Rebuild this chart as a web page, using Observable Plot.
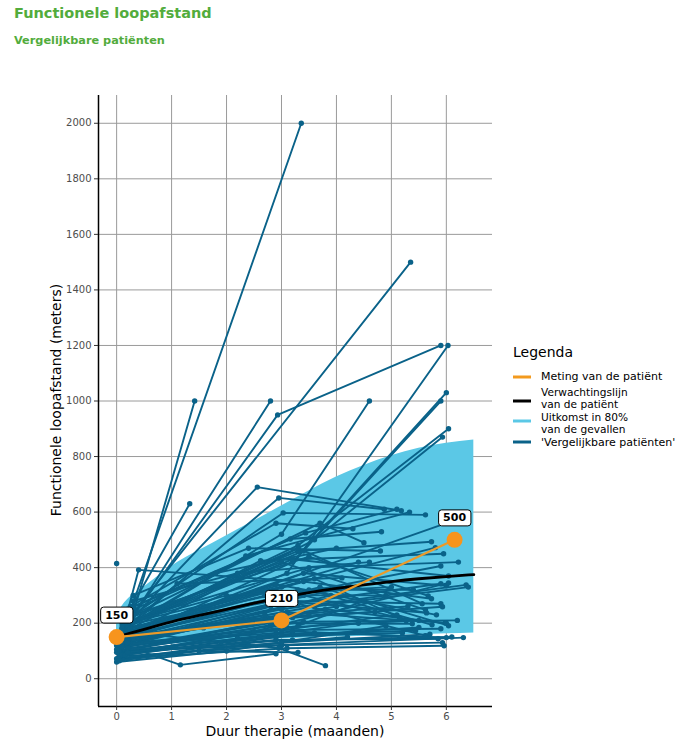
<!DOCTYPE html>
<html><head><meta charset="utf-8">
<script src="https://cdn.jsdelivr.net/npm/d3@7"></script>
<script src="https://cdn.jsdelivr.net/npm/@observablehq/plot@0.6"></script>
<style>
body{margin:0;background:#fff;font-family:"DejaVu Sans",sans-serif;}
#wrap{position:relative;width:688px;height:744px;overflow:hidden;}
#title{position:absolute;left:14px;top:5px;font-size:14.5px;font-weight:bold;color:#52ac3c;white-space:nowrap;}
#subtitle{position:absolute;left:14px;top:34px;font-size:11.3px;font-weight:bold;color:#52ac3c;white-space:nowrap;}
#chart{position:absolute;left:0;top:60px;}
#overlay{position:absolute;left:0;top:0;pointer-events:none;}
</style></head><body>
<div id="wrap">
<div id="title">Functionele loopafstand</div>
<div id="subtitle">Vergelijkbare patiënten</div>
<div id="chart"></div>
<svg id="overlay" width="688" height="744" font-family="DejaVu Sans, sans-serif">
  <text x="57" y="400" transform="rotate(-90 57 400)" text-anchor="middle" dominant-baseline="middle" font-size="14" fill="#000">Functionele loopafstand (meters)</text>
  <text x="295" y="732" text-anchor="middle" dominant-baseline="middle" font-size="14" fill="#000">Duur therapie (maanden)</text>
  <text x="513" y="353" dominant-baseline="middle" font-size="14" fill="#000">Legenda</text>
  <line x1="513" x2="531" y1="377" y2="377" stroke="#f39a1e" stroke-width="3"/>
  <text x="541" y="377" dominant-baseline="middle" font-size="11">Meting van de patiënt</text>
  <line x1="513" x2="531" y1="401" y2="401" stroke="#000" stroke-width="3"/>
  <text x="541" y="393" dominant-baseline="middle" font-size="10.6">Verwachtingslijn</text>
  <text x="541" y="405" dominant-baseline="middle" font-size="10.6">van de patiënt</text>
  <line x1="513" x2="531" y1="421" y2="421" stroke="#5bc8e6" stroke-width="3"/>
  <text x="541" y="417.5" dominant-baseline="middle" font-size="10.6">Uitkomst in 80%</text>
  <text x="541" y="429.5" dominant-baseline="middle" font-size="10.6">van de gevallen</text>
  <line x1="513" x2="531" y1="442" y2="442" stroke="#0a6289" stroke-width="3"/>
  <text x="541" y="442.5" dominant-baseline="middle" font-size="11">'Vergelijkbare patiënten'</text>
</svg>
</div>
<script>
// ---- data ----
const xTicks = [0, 1, 2, 3, 4, 5, 6];
const yTicks = [0, 200, 400, 600, 800, 1000, 1200, 1400, 1600, 1800, 2000];

// 80% outcome band
const bandMonths = [0, 0.2, 0.5, 1, 1.5, 2, 2.5, 3, 3.5, 4, 4.5, 5, 5.5, 6, 6.5];
const bandUpper  = [230, 285, 330, 405, 462, 515, 568, 622, 676, 726, 768, 803, 830, 848, 860];
const bandLower  = [110, 115, 120, 125, 130, 135, 139, 143, 147, 150, 153, 156, 159, 162, 165];

// expectation line of the patient
const expMonths = [0, 0.5, 1, 1.5, 2, 2.5, 3, 3.5, 4, 4.5, 5, 5.5, 6, 6.5];
const expMeters = [150, 178, 205, 228, 250, 272, 292, 310, 325, 338, 350, 360, 368, 375];

// measurements of the patient
const patMonths = [0, 3, 6.15];
const patMeters = [150, 210, 500];

// comparable patients: [month, meters] per measurement
const patientTracks = [
  [[0.1,160],[3.36,2000]],
  [[0.25,200],[1.42,1000]],
  [[0.2,210],[5.35,1500]],
  [[0.15,180],[2.8,1000]],
  [[0.1,170],[2.93,950],[5.9,1200]],
  [[0.2,150],[3.1,380],[6.03,1200]],
  [[0.25,190],[3.0,520],[4.6,1000]],
  [[0.15,140],[3.2,420],[6.0,1030]],
  [[0.3,200],[3.4,460],[5.9,1000]],
  [[0.1,180],[3.3,480],[6.04,900]],
  [[0.2,160],[3.6,500],[5.93,870]],
  [[0.1,200],[1.33,630]],
  [[0.3,220],[2.56,690],[5.18,605]],
  [[0.2,190],[2.95,651],[4.87,610]],
  [[0.3,230],[3.03,597],[5.62,590]],
  [[0.05,130],[0.4,392],[3.3,350]],
  [[0,415]],
  [[0.2,250],[3.44,525],[5.1,610]],
  [[0.1,180],[2.35,442],[5.33,600]],
  [[0.3,260],[3.16,503],[4.82,529]],
  [[0.2,200],[3.3,460],[5.73,493]],
  [[0.15,170],[2.62,425],[5.95,450]],
  [[0.25,210],[3.5,400],[6.22,420]],
  [[0.1,150],[6.0,560]],
  [[0.2,180],[3.0,330],[5.8,472]],
  [[0.05,140],[3.1,300],[5.9,406]],
  [[0.1,160],[1.1,342],[4.1,363]],
  [[0.2,190],[3.2,430],[6.04,370]],
  [[0.15,120],[2.8,260],[5.9,342]],
  [[0.2,170],[3.4,380],[6.0,335]],
  [[0.1,130],[3.0,250],[6.36,338]],
  [[0.3,230],[3.5,440],[5.67,298]],
  [[0.2,200],[3.3,470],[5.56,270]],
  [[0.1,140],[3.2,280],[5.9,270]],
  [[0.25,220],[3.0,420],[5.62,248]],
  [[0.15,160],[2.9,340],[5.82,230]],
  [[0.1,180],[3.4,300],[5.15,219]],
  [[0.2,200],[3.6,360],[5.27,209]],
  [[0.05,110],[2.8,200],[5.38,198]],
  [[0.15,150],[3.1,240],[5.98,201]],
  [[0.2,170],[3.5,320],[5.74,194]],
  [[0.1,100],[3.0,160],[5.44,173]],
  [[0.2,140],[3.3,270],[5.62,155]],
  [[0.05,90],[2.9,140],[5.85,144]],
  [[0.1,120],[3.2,170],[6.0,148]],
  [[0.15,100],[6.31,148]],
  [[0.05,80],[3.0,120],[5.93,130]],
  [[0,130],[1.16,50],[2.9,90]],
  [[0.1,170],[2.95,110],[3.8,47]],
  [[0.1,100],[3.0,200]],
  [[0.2,130],[2.7,230]],
  [[0.05,90],[3.3,190],[4.5,280]],
  [[0.3,160],[4.2,330]],
  [[0.1,70],[2.9,150],[5.5,185]],
  [[0,72],[3.1,110],[5.96,119]],
  [[0.2,120],[3.9,300]],
  [[0.15,140],[3.6,260],[6.4,330]],
  [[0,60],[2.0,100],[4.9,190]],
  [[0.25,180],[4.4,420]],
  [[0.1,150],[3.7,330],[6.04,191]],
  [[0.2,130],[3.0,280],[5.64,237]],
  [[0.05,110],[3.2,220],[5.93,259]],
  [[0.1,160],[3.4,350],[5.73,288]],
  [[0.15,90],[2.5,170],[6.04,345]],
  [[0.3,280],[2.2,380],[4.6,420]],
  [[0.2,240],[1.8,380],[4.0,470]],
  [[0.25,260],[2.9,560],[4.3,540]],
  [[0.1,130],[1.58,183],[3.5,230]],
  [[0.05,100],[3.8,250],[6.0,200]],
  [[0.3,300],[2.4,470],[4.8,460]],
  [[0.2,220],[3.7,560],[4.5,490]],
  [[0.15,200],[2.0,300],[5.0,330]],
  [[0.05,75],[3.0,130],[5.7,160]],
  [[0.1,85],[2.6,150],[5.2,165]],
  [[0,95],[3.2,140],[6.1,150]],
  [[0.2,110],[2.9,175],[5.9,180]],
  [[0.1,125],[3.1,185],[5.5,210]],
  [[0.05,140],[2.8,215],[4.7,240]],
  [[0,105],[2.4,120],[4.2,150]],
  [[0.15,85],[1.9,130],[3.6,165]],
  [[0.3,150],[3.0,230],[5.3,260]],
  [[0.1,115],[3.4,205],[6.2,210]],
  [[0.2,95],[2.2,145],[4.4,200]],
  [[0,120],[3.0,175],[5.1,230]],
  [[0.25,170],[2.7,300],[4.9,300]],
  [[0.1,190],[3.3,320],[5.4,320]],
  [[0.05,65],[1.5,100],[3.3,95]],
  [[0.2,155],[2.5,210],[4.0,260]]
];

// ---- build tables ----
const band = bandMonths.map((t, i) => ({t, lo: bandLower[i], hi: bandUpper[i]}));
const expect = expMonths.map((t, i) => ({t, v: expMeters[i]}));
const patient = patMonths.map((t, i) => ({t, v: patMeters[i]}));
const others = patientTracks.flatMap((tr, id) => tr.map(([t, v]) => ({id, t, v})));

const darkBlue = "#0a6289";
const chart = Plot.plot({
  width: 688, height: 684,
  marginLeft: 98, marginRight: 196, marginTop: 35, marginBottom: 38,
  style: {fontFamily: "DejaVu Sans, sans-serif", fontSize: "10px", background: "#fff"},
  x: {domain: [-0.33, 6.84]},
  y: {domain: [-100, 2100]},
  marks: [
    Plot.gridX(xTicks, {stroke: "#9a9a9a", strokeOpacity: 1, strokeWidth: 1}),
    Plot.gridY(yTicks, {stroke: "#9a9a9a", strokeOpacity: 1, strokeWidth: 1}),
    Plot.areaY(band, {x: "t", y1: "lo", y2: "hi", fill: "#5bc8e6", fillOpacity: 1, curve: "natural"}),
    Plot.line(others, {x: "t", y: "v", z: "id", stroke: darkBlue, strokeWidth: 1.9}),
    Plot.dot(others, {x: "t", y: "v", r: 2.7, fill: darkBlue}),
    Plot.line(expect, {x: "t", y: "v", stroke: "#000", strokeWidth: 2.8, curve: "natural"}),
    Plot.line(patient, {x: "t", y: "v", stroke: "#eb9a2a", strokeWidth: 2.2}),
    Plot.dot(patient, {x: "t", y: "v", r: 8, fill: "#f7941d"}),
    Plot.text(patient, {x: "t", y: "v", text: d => String(d.v), dy: -22, fontWeight: "bold", fontSize: 11, fill: "#000"}),
    Plot.ruleX([-0.33], {stroke: "#000", strokeWidth: 1.5}),
    Plot.ruleY([-100], {stroke: "#000", strokeWidth: 1.5}),
    Plot.axisX(xTicks, {tickSize: 4, tickPadding: 2, stroke: "#333", fill: "#4d4d4d", label: null, tickFormat: d => String(d)}),
    Plot.axisY(yTicks, {tickSize: 4, tickPadding: 3, stroke: "#333", fill: "#4d4d4d", label: null, tickFormat: d => String(d)})
  ]
});
document.getElementById("chart").appendChild(chart);

// white rounded boxes behind value labels
const labelSet = new Set(patMeters.map(String));
chart.querySelectorAll("text").forEach(t => {
  if (!labelSet.has(t.textContent)) return;
  const b = t.getBBox();
  const r = document.createElementNS("http://www.w3.org/2000/svg", "rect");
  r.setAttribute("x", b.x - 4.5);
  r.setAttribute("y", b.y - 1.5);
  r.setAttribute("width", b.width + 9);
  r.setAttribute("height", b.height + 3);
  r.setAttribute("rx", 3);
  r.setAttribute("fill", "#fff");
  r.setAttribute("stroke", "#000");
  r.setAttribute("stroke-width", 1);
  const tr = t.getAttribute("transform");
  if (tr) r.setAttribute("transform", tr);
  t.parentNode.insertBefore(r, t);
});
</script>
</body></html>
